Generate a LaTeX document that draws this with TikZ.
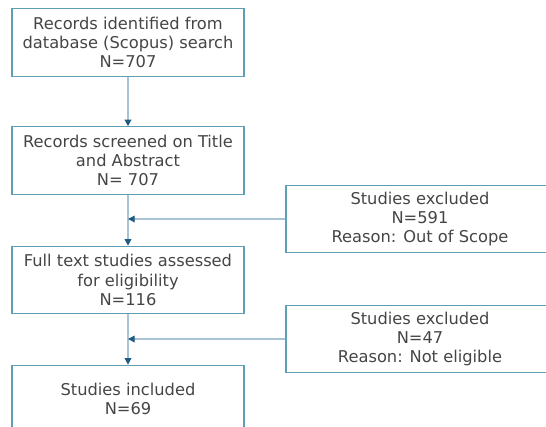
\documentclass[tikz,border=0pt]{standalone}
\usepackage{fontspec}
\setmainfont{DejaVu Sans}
\usetikzlibrary{arrows.meta}
\definecolor{boxline}{HTML}{5F9FB5}
\definecolor{flowline}{HTML}{A7C3D6}
\definecolor{tipblue}{HTML}{1F5A82}
\definecolor{txtgrey}{HTML}{454545}

\begin{document}
\begin{tikzpicture}[x=0.75pt, y=-0.75pt,
  stepbox/.style={draw=boxline, line width=0.9pt, text=txtgrey, minimum width=174pt, minimum height=50.5pt, align=center, inner sep=0pt, font=\fontsize{12.2}{14.4}\selectfont},
  exclbox/.style={stepbox, minimum width=201pt},
  flow/.style={draw=flowline, line width=1pt, -{Triangle[length=5pt,width=5pt,color=tipblue]}}]
  \useasboundingbox (0,0) rectangle (546,427);
  \clip (0,0) rectangle (546,427);
  % main steps
  \node[stepbox] (ident) at (128,42.5) {Records identified from\\database (Scopus) search\\N=707};
  \node[stepbox] (screen) at (128,160.5) {Records screened on Title\\and Abstract\\N= 707};
  \node[stepbox] (full) at (128,280) {Full text studies assessed\\for eligibility\\N=116};
  \node[stepbox] (incl) at (128,399) {Studies included\\N=69};
  % exclusions
  \node[exclbox] (excla) at (420,219) {Studies excluded\\N=591\\Reason: Out of Scope};
  \node[exclbox] (exclb) at (420,339) {Studies excluded\\N=47\\Reason: Not eligible};
  % Edges
  \draw[flow] (ident) -- (screen);
  \draw[flow] (screen) -- (full);
  \draw[flow] (full) -- (incl);
  \draw[flow] (excla.west) -- (excla.west -| ident);
  \draw[flow] (exclb.west) -- (exclb.west -| ident);
\end{tikzpicture}
\end{document}
